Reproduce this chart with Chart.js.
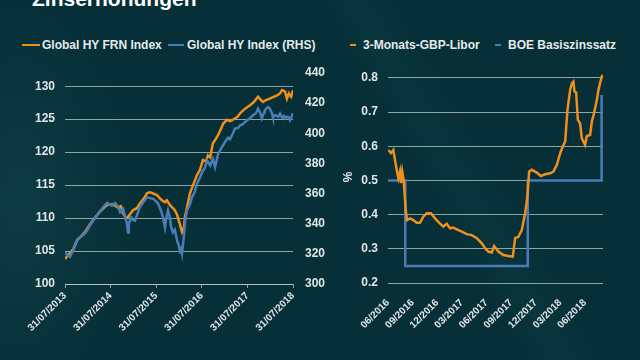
<!DOCTYPE html>
<html>
<head>
<meta charset="utf-8">
<script src="https://cdn.jsdelivr.net/npm/chart.js@4.4.1/dist/chart.umd.min.js"></script>
<style>
  html, body { margin: 0; padding: 0; }
  body {
    width: 640px; height: 360px; overflow: hidden; position: relative;
    background: #062f37;
    background-image:
      radial-gradient(ellipse 120px 220px at 20px 200px, rgba(24,72,80,0.45), rgba(24,72,80,0) 100%),
      linear-gradient(60deg, rgba(0,0,0,0) 62%, rgba(30,80,88,0.18) 66%, rgba(0,0,0,0) 72%);
    font-family: "Liberation Sans", Arial, sans-serif;
  }
  .title { position: absolute; left: 32px; top: -12px; font-size: 21px; line-height: 21px; font-weight: bold; color: #ffffff; }
  .leg { position: absolute; font-size: 12px; font-weight: bold; color: #e4eaea; line-height: 14px; top: 38px; white-space: nowrap; }
  .sw { position: absolute; height: 2px; top: 44px; }
  canvas { position: absolute; }
</style>
</head>
<body>
<div class="title">Zinserhöhungen</div>

<div class="sw" style="left:22px;width:18px;background:#ef901c"></div>
<div class="leg" style="left:42px">Global HY FRN Index</div>
<div class="sw" style="left:168px;width:16px;background:#4a7db6"></div>
<div class="leg" style="left:187px">Global HY Index (RHS)</div>

<div class="sw" style="left:350px;width:6px;background:#ef901c"></div>
<div class="leg" style="left:363px">3-Monats-GBP-Libor</div>
<div class="sw" style="left:495px;width:6px;background:#4a7db6"></div>
<div class="leg" style="left:508px">BOE Basiszinssatz</div>

<div style="position:absolute;left:0;top:0;width:340px;height:360px"><canvas id="leftChart"></canvas></div>
<div style="position:absolute;left:320px;top:0;width:320px;height:360px"><canvas id="rightChart"></canvas></div>

<script>
// left chart: months since 31/07/2013
const leftTickLabels = ['31/07/2013', '31/07/2014', '31/07/2015', '31/07/2016', '31/07/2017', '31/07/2018'];

const frnMonths = [0, 0.8, 2.1, 3.2, 4.2, 5.3, 6.3, 7.4, 9.2, 10.3, 11.1, 12.6, 13.9, 14.7, 15.3, 16.1, 16.6, 17.9, 18.9, 19.7,
  20.8, 21.6, 22.4, 22.9, 24.2, 25, 25.5, 26.3, 26.8, 27.6, 28.2, 28.9, 29.5, 30, 30.5, 30.8, 31.3, 31.6, 32.1, 32.9,
  33.7, 34.7, 35.5, 36.3, 37.1, 37.6, 38.2, 38.9, 39.7, 40.3, 41.1, 41.6, 42.6, 43.4, 43.9, 45.3, 46.1, 46.8, 47.9, 48.7,
  49.7, 50.8, 51.6, 52.1, 52.9, 53.9, 55, 55.8, 56.6, 57.1, 57.9, 58.4, 58.9, 59.5, 60];
const frnValues = [103.8, 104.4, 105.2, 106.7, 107.2, 107.9, 108.8, 109.7, 111.0, 111.6, 112.0, 112.1, 111.6, 111.8, 110.7, 110.0, 110.2, 111.2, 111.5, 112.2,
  113.0, 113.8, 113.9, 113.8, 113.5, 113.0, 112.7, 112.4, 112.7, 112.0, 111.6, 111.2, 110.5, 109.5, 108.5, 107.9, 108.6, 110.2, 111.6, 113.8,
  115.0, 116.5, 117.3, 118.8, 118.6, 119.5, 119.2, 121.3, 122.0, 122.6, 123.6, 124.3, 124.9, 124.7, 124.8, 125.3, 125.9, 126.3, 126.8, 127.1,
  127.6, 128.4, 127.9, 127.6, 127.9, 128.1, 128.4, 128.6, 128.9, 129.4, 129.2, 128.1, 128.9, 128.4, 129.4];

const hyMonths = [0, 0.5, 1.3, 2.1, 3.2, 4.2, 5, 5.8, 6.6, 7.4, 8.4, 9.2, 10, 11.1, 11.8, 12.4, 13.2, 13.9, 14.5, 15.3,
  15.8, 16.3, 16.6, 16.8, 17.4, 17.9, 18.4, 19.2, 19.7, 20.8, 21.6, 22.4, 23.2, 23.9, 24.5, 25.3, 25.8, 26.3, 26.6, 27.1,
  27.6, 27.9, 28.4, 28.9, 29.5, 30, 30.3, 30.5, 30.8, 31.3, 31.6, 32.1, 32.9, 33.4, 34.2, 34.7, 35.5, 36.1, 36.8, 37.4,
  38.2, 38.9, 39.5, 40.3, 41.1, 42.1, 42.9, 43.4, 44.2, 44.7, 45.5, 46.1, 46.8, 47.9, 48.7, 49.5, 50.3, 50.8, 51.3, 51.8,
  52.4, 52.6, 53.4, 53.9, 54.5, 54.7, 55.5, 56.1, 56.6, 57.1, 57.6, 57.9, 58.4, 58.9, 59.2, 59.7, 60];
const hyValues = [320.9, 319.5, 318, 322, 328.7, 331.5, 333, 335.3, 339, 342, 345.5, 348, 350.9, 353.8, 352.5, 352, 353.7, 351.5, 347.6, 349.8,
  345, 340, 334.2, 340, 344.2, 342.5, 342, 347.5, 351, 355, 357.5, 357, 356.5, 355, 353.3, 348.5, 344.2, 337.5, 343, 348.7,
  344, 338, 334.2, 336, 328.7, 325, 320.9, 325, 320.5, 332, 340.9, 348.7, 353, 357.5, 361.5, 366.4, 370.5, 374.2, 377, 382,
  378.7, 383, 377.5, 386.4, 390, 394.2, 397, 396, 400, 403.1, 403.5, 405.3, 406, 408.7, 410, 412, 413.5, 416.4, 414, 409.8,
  414, 415.3, 417.5, 416.5, 413, 410.9, 412, 411, 413.1, 410.5, 411.5, 409.8, 411, 410.5, 408.7, 411.5, 413.5];

// right chart: months since 06/2016
const rightTickLabels = ['06/2016', '09/2016', '12/2016', '03/2017', '06/2017', '09/2017', '12/2017', '03/2018', '06/2018'];

const liborMonths = [0.04, 0.37, 0.65, 0.85, 1.06, 1.26, 1.46, 1.59, 1.74, 1.91, 2.16, 2.32, 2.68, 3.09, 3.5, 3.9, 4.3, 4.72, 5.24, 5.73,
  6.13, 6.74, 7.16, 7.56, 7.96, 8.38, 8.99, 9.6, 10.21, 10.82, 11.43, 11.83, 12.23, 12.65, 12.93, 13.45, 14.06, 14.67, 15.21, 15.49,
  15.89, 16.3, 16.71, 16.99, 17.2, 17.52, 18.13, 18.62, 19.15, 19.76, 20.16, 20.57, 20.98, 21.3, 21.59, 21.87, 22.2, 22.4, 22.6, 22.72,
  22.93, 23.13, 23.41, 23.62, 24.02, 24.23, 24.63, 24.84, 25.12, 25.45, 25.65, 25.94, 26.13];
const liborValues = [0.589, 0.58, 0.589, 0.56, 0.531, 0.506, 0.526, 0.492, 0.526, 0.501, 0.414, 0.384, 0.389, 0.384, 0.376, 0.376, 0.394, 0.404, 0.404, 0.389,
  0.379, 0.365, 0.373, 0.36, 0.362, 0.357, 0.35, 0.343, 0.34, 0.331, 0.316, 0.302, 0.292, 0.289, 0.308, 0.292, 0.282, 0.279, 0.277, 0.331,
  0.335, 0.355, 0.404, 0.453, 0.526, 0.531, 0.523, 0.513, 0.518, 0.521, 0.526, 0.545, 0.58, 0.599, 0.614, 0.706, 0.765, 0.784, 0.789, 0.76,
  0.757, 0.677, 0.667, 0.623, 0.604, 0.63, 0.633, 0.672, 0.697, 0.736, 0.765, 0.794, 0.809];

const boeMonths = [0, 2.1, 17.03, 26.03];
const boeValues = [0.5, 0.25, 0.5, 0.75];

const orange = '#ef901c';
const blue = '#4a7db6';
const gridColor = 'rgba(190,204,206,0.75)';
const tickColor = '#dfe6e6';
const yFont = { family: 'Liberation Sans', size: 12, weight: 'bold' };
const xFont = { family: 'Liberation Sans', size: 10, weight: 'bold' };

function pts(xs, ys) {
  return xs.map((x, i) => ({ x: x, y: ys[i] }));
}

new Chart(document.getElementById('leftChart'), {
  type: 'line',
  data: {
    datasets: [{
      label: 'Global HY FRN Index',
      data: pts(frnMonths, frnValues),
      borderColor: orange,
      borderWidth: 2.5,
      pointRadius: 0,
      tension: 0,
      yAxisID: 'y',
      order: 2
    }, {
      label: 'Global HY Index (RHS)',
      data: pts(hyMonths, hyValues),
      borderColor: blue,
      borderWidth: 2.5,
      pointRadius: 0,
      tension: 0,
      yAxisID: 'y2',
      order: 1
    }]
  },
  options: {
    responsive: true,
    maintainAspectRatio: false,
    animation: false,
    layout: { padding: { top: 73, left: 0, right: 0, bottom: 0 } },
    plugins: { legend: { display: false }, tooltip: { enabled: false } },
    scales: {
      x: {
        type: 'linear',
        min: 0,
        max: 60,
        afterFit: (s) => { s.height = 76; },
        border: { display: true, color: gridColor, width: 1 },
        grid: { display: true, drawOnChartArea: false, drawTicks: true, tickLength: 4, color: gridColor },
        ticks: {
          stepSize: 12,
          minRotation: 45,
          maxRotation: 45,
          padding: 2,
          color: tickColor,
          font: xFont,
          callback: (v) => leftTickLabels[v / 12]
        }
      },
      y: {
        position: 'left',
        min: 100,
        max: 132,
        afterFit: (s) => { s.width = 65; },
        border: { display: false },
        grid: { color: gridColor, drawTicks: false },
        ticks: { stepSize: 5, includeBounds: false, padding: 10, color: tickColor, font: yFont }
      },
      y2: {
        position: 'right',
        min: 300,
        max: 440,
        afterFit: (s) => { s.width = 47; },
        border: { display: false },
        grid: { display: false, drawTicks: false },
        ticks: { stepSize: 20, padding: 12, color: tickColor, font: yFont }
      }
    }
  }
});

new Chart(document.getElementById('rightChart'), {
  type: 'line',
  data: {
    datasets: [{
      label: '3-Monats-GBP-Libor',
      data: pts(liborMonths, liborValues),
      borderColor: orange,
      borderWidth: 2.5,
      pointRadius: 0,
      tension: 0,
      order: 1
    }, {
      label: 'BOE Basiszinssatz',
      data: pts(boeMonths, boeValues),
      borderColor: blue,
      borderWidth: 2.5,
      pointRadius: 0,
      stepped: true,
      order: 2
    }]
  },
  options: {
    responsive: true,
    maintainAspectRatio: false,
    animation: false,
    layout: { padding: { top: 71, left: 0, right: 37, bottom: 0 } },
    plugins: { legend: { display: false }, tooltip: { enabled: false } },
    scales: {
      x: {
        type: 'linear',
        min: 0,
        max: 26.2,
        afterFit: (s) => { s.height = 77; },
        border: { display: false },
        grid: { display: false },
        ticks: {
          stepSize: 3,
          includeBounds: false,
          minRotation: 45,
          maxRotation: 45,
          padding: 6,
          color: tickColor,
          font: xFont,
          callback: (v) => rightTickLabels[v / 3]
        }
      },
      y: {
        min: 0.2,
        max: 0.82,
        afterFit: (s) => { s.width = 68; },
        border: { display: false },
        grid: { color: gridColor, drawTicks: false },
        title: { display: true, text: '%', color: tickColor, font: yFont, padding: { top: 21, bottom: 0 } },
        ticks: { stepSize: 0.1, includeBounds: false, padding: 10, color: tickColor, font: yFont,
          callback: (v) => v.toFixed(1) }
      }
    }
  }
});
</script>
</body>
</html>
